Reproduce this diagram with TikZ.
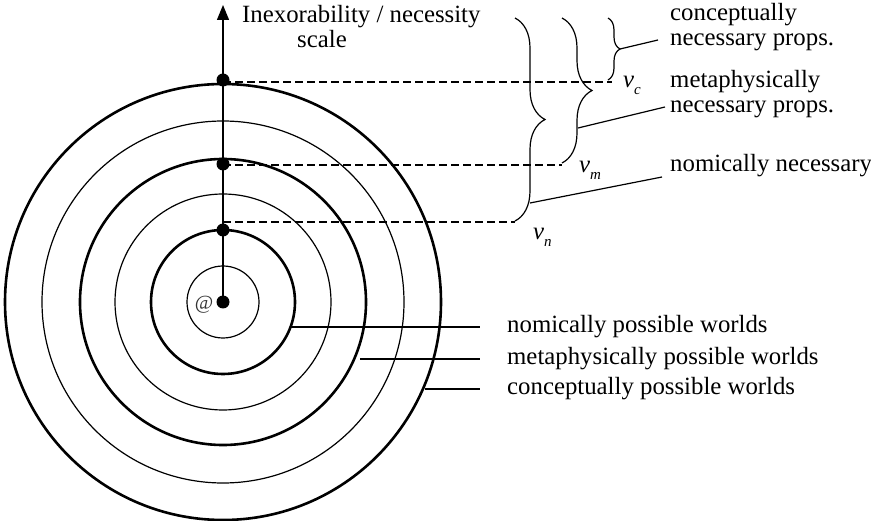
\documentclass[tikz,border=0pt]{standalone}
\usepackage{fontspec}
\setmainfont{Liberation Serif}
\usetikzlibrary{decorations.pathreplacing,arrows.meta}
\newcommand{\vsub}[1]{{\itshape v}\raisebox{-0.25em}{\fontsize{15}{15}\selectfont\itshape #1}}
\tikzset{
  thin ring/.style={line width=1.2pt},
  thick ring/.style={line width=2.6pt},
  dotmark/.style={circle,fill=black,inner sep=0pt,minimum size=13pt},
  dash line/.style={line width=1.3pt,dash pattern=on 8pt off 4pt},
  conn/.style={line width=1.2pt},
  bracebox/.style={line width=1.2pt,decorate,decoration={brace,amplitude=#1}},
  lbl/.style={inner sep=0pt,font=\fontsize{24.8}{25}\selectfont,align=left},
  vlbl/.style={inner sep=0pt,font=\fontsize{24.8}{25}\selectfont}
}
\begin{document}
\begin{tikzpicture}[x=1pt,y=-1pt]
\useasboundingbox (0,0) rectangle (871,521);
\coordinate (c) at (223,302);
% rings
\draw[thin ring] (c) circle[radius=36pt];
\draw[thick ring] (c) circle[radius=72pt];
\draw[thin ring] (c) circle[radius=108pt];
\draw[thick ring] (c) circle[radius=143pt];
\draw[thin ring] (c) circle[radius=181pt];
\draw[thick ring] (c) circle[radius=218pt];
% axis
\coordinate (top) at (223,5);
\draw[line width=1.3pt,-{Triangle[width=12pt,length=15pt]}] (c) -- (top);
\node[dotmark] (d0) at (c) {};
\node[dotmark] (dn) at (223,230) {};
\node[dotmark] (dm) at (223,164) {};
\node[dotmark] (dc) at (223,80) {};
\node[inner sep=0pt,font=\fontsize{20}{20}\selectfont,text=black!80] (at) at (204,305) {@};
% axis label
\node[lbl,anchor=base west] (axl) at (242,48) {Inexorability / necessity\\\hspace*{55pt}scale};
% dashed levels
\coordinate (ec) at (612,82);
\coordinate (em) at (562,165);
\coordinate (en) at (515,222);
\draw[dash line] (223,82) -- (ec);
\draw[dash line] (223,165) -- (em);
\draw[dash line] (223,222) -- (en);
% v labels
\node[vlbl,anchor=base west] (vc) at (623,88) {\vsub{c}};
\node[vlbl,anchor=base west] (vm) at (579,173) {\vsub{m}};
\node[vlbl,anchor=base west] (vn) at (533,240) {\vsub{n}};
% braces
\draw[bracebox=30pt] (515,18) -- (515,221);
\draw[bracebox=30pt] (562,18) -- (562,163);
\draw[bracebox=12pt] (608,18) -- (608,80);
% right labels
\node[lbl,anchor=base west] (lc) at (670,46) {conceptually\\necessary props.};
\node[lbl,anchor=base west] (lm) at (670,113) {metaphysically\\necessary props.};
\node[lbl,anchor=base west] (ln) at (670,172) {nomically necessary};
\coordinate (bc) at (620,49);
\coordinate (bm) at (578,128);
\coordinate (bn) at (530,203);
\coordinate (tc) at (658,40);
\coordinate (tm) at (665,107);
\coordinate (tn) at (662,177);
\draw[conn] (bc) -- (tc);
\draw[conn] (bm) -- (tm);
\draw[conn] (bn) -- (tn);
% world labels
\node[lbl,anchor=base west] (wn) at (507,333) {nomically possible worlds};
\node[lbl,anchor=base west] (wm) at (507,365) {metaphysically possible worlds};
\node[lbl,anchor=base west] (wc) at (507,395) {conceptually possible worlds};
\coordinate (sn) at (290,327);
\coordinate (sm) at (360,359);
\coordinate (sc) at (425,389);
\coordinate (pn) at (480,327);
\coordinate (pm) at (480,359);
\coordinate (pc) at (480,389);
\draw[conn] (sn) -- (pn);
\draw[conn] (sm) -- (pm);
\draw[conn] (sc) -- (pc);
\end{tikzpicture}
\end{document}
